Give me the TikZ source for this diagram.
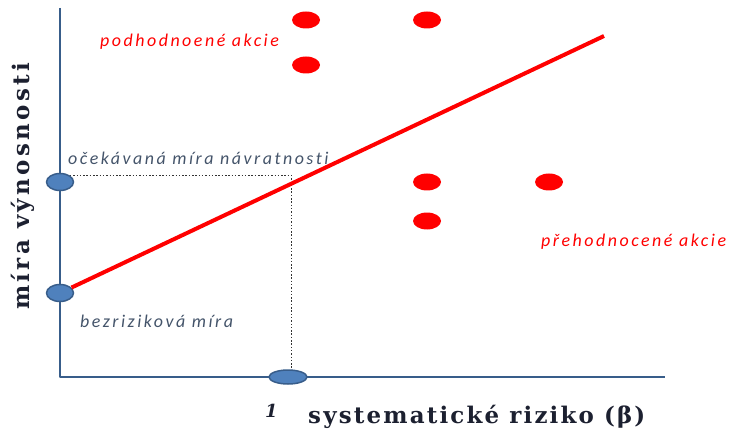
\documentclass[tikz,border=0pt]{standalone}
\usepackage{fontspec}
\setmainfont{DejaVu Serif}
\newfontfamily\labfont[LetterSpace=14,Ligatures=NoCommon]{Carlito}
\usetikzlibrary{shapes.geometric}
\definecolor{axiscol}{RGB}{56,93,138}
\definecolor{dotfill}{RGB}{79,129,189}
\definecolor{labcol}{RGB}{68,84,106}
\definecolor{titlecol}{RGB}{28,32,48}

\begin{document}
\begin{tikzpicture}[x=1bp,y=1bp,line join=bevel,
  bluedot/.style={draw=axiscol,fill=dotfill,ellipse,line width=1.5bp,inner sep=0pt,minimum width=27bp,minimum height=17bp},
  reddot/.style={fill=red,ellipse,inner sep=0pt,minimum width=28bp,minimum height=17bp},
  lab/.style={font=\labfont\itshape\fontsize{18}{18}\selectfont,anchor=base west,inner sep=0pt},
  axtitle/.style={font=\bfseries\fontsize{23}{23}\selectfont,text=titlecol,anchor=base west,inner sep=0pt}]
\useasboundingbox (0,0) rectangle (731,430);
%%
\coordinate (O) at (60bp,53bp);
\coordinate (ytop) at (60bp,422bp);
\coordinate (xend) at (665bp,53bp);
\coordinate (m) at (291bp,255bp);
\coordinate (smlend) at (604bp,394bp);
\draw [axiscol,line width=2.5bp] (ytop) -- (O) -- (xend);
%
\draw [black!80,thick,dash pattern=on 1.5bp off 1.8bp] (60bp,255bp) -- (m);
\draw [black!80,thick,dash pattern=on 1.5bp off 1.8bp] (m) -- (291bp,53bp);
%
\node (er) at (60bp,248bp) [bluedot] {};
\node (rf) at (60bp,137bp) [bluedot] {};
\node (beta) at (288bp,53bp) [bluedot,minimum width=38bp,minimum height=14bp] {};
\draw [red,line width=4bp] (rf) -- (smlend);
%
\node (u1) at (306bp,410bp) [reddot] {};
\node (u2) at (427bp,410bp) [reddot] {};
\node (u3) at (306bp,365bp) [reddot] {};
\node (o1) at (427bp,248bp) [reddot] {};
\node (o2) at (549bp,248bp) [reddot] {};
\node (o3) at (427bp,209bp) [reddot] {};
%
\node (erlab) at (68bp,265bp) [lab,text=labcol] {očekávaná míra návratnosti};
\node (rflab) at (80bp,103bp) [lab,text=labcol] {bezriziková míra};
\node (ulab) at (100bp,383bp) [lab,text=red] {podhodnoené akcie};
\node (olab) at (541bp,184bp) [lab,text=red] {přehodnocené akcie};
\node (one) at (265bp,13bp) [lab,font=\bfseries\itshape\fontsize{18}{18}\selectfont,text=titlecol] {1};
\node (xlab) at (308bp,7bp) [axtitle,font=\bfseries\fontsize{23}{23}\selectfont\addfontfeature{LetterSpace=9.5}] {systematické riziko (β)};
\node (ylab) at (29bp,120bp) [axtitle,rotate=90,font=\bfseries\fontsize{23}{23}\selectfont\addfontfeature{LetterSpace=14.5}] {míra výnosnosti};
%
\end{tikzpicture}
\end{document}
